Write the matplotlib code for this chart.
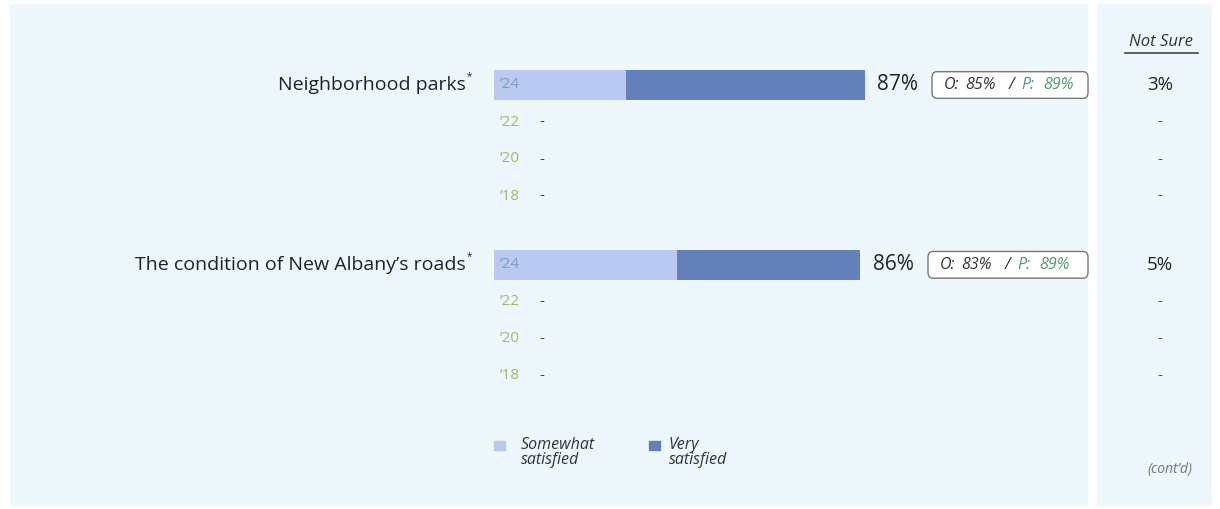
import matplotlib
matplotlib.use("Agg")
import matplotlib.pyplot as plt
from matplotlib.patches import Rectangle, FancyBboxPatch
from matplotlib.transforms import blended_transform_factory

# ---- data ----
items = ["Neighborhood parks", "The condition of New Albany\u2019s roads"]
years = ["\u201924", "\u201922", "\u201920", "\u201918"]
somewhat = [31, 43]          # '24 somewhat satisfied
very = [56, 43]              # '24 very satisfied
totals = [87, 86]
owners = [85, 83]
partners = [89, 89]
not_sure = ["3%", "5%"]
legend_labels = ["Somewhat\nsatisfied", "Very\nsatisfied"]

LIGHT = "#b9c9f1"
DARK = "#6281ba"
BG = "#eef7fc"
YEAR_GREEN = "#a3b86a"
TXT = "#222222"

W, H = 1220, 509
fig = plt.figure(figsize=(W / 100, H / 100), dpi=100, facecolor="white")

# background panels
fig.patches.append(Rectangle((10 / W, 4 / H), (1087 - 10) / W, (505 - 4) / H,
                             transform=fig.transFigure, color=BG, zorder=-5))
fig.patches.append(Rectangle((1097 / W, 4 / H), (1211 - 1097) / W, (505 - 4) / H,
                             transform=fig.transFigure, color=BG, zorder=-5))

# bar axes: x in percent, 0 at px 494, 100 at px 920
ax = fig.add_axes([494 / W, 0, 426 / W, 1])
ax.set_zorder(1)
ax.set_xlim(0, 100)
row_px = 37.0
first_px = 85.0
ax.set_ylim((H - first_px) / row_px, -first_px / row_px)
ax.axis("off")
ax.patch.set_alpha(0)

group_offset = 4.86
tr = blended_transform_factory(fig.transFigure, ax.transData)

def fx(px):
    return px / W

font = "Open Sans"
hand = "Open Sans"

for g, item in enumerate(items):
    y0 = g * group_offset
    ax.barh(y0, somewhat[g], height=0.82, color=LIGHT, zorder=2)
    ax.barh(y0, very[g], left=somewhat[g], height=0.82, color=DARK, zorder=2)
    # item label
    fig.text(fx(466), y0, item, transform=tr, ha="right", va="center",
             fontsize=14, family=font, color=TXT)
    fig.text(fx(467), y0 - 0.22, "*", transform=tr, ha="left", va="center",
             fontsize=7, family=font, color=TXT)
    # year labels
    for i, yr in enumerate(years):
        yy = y0 + i
        col = "#8699bd" if i == 0 else YEAR_GREEN
        ax.text(1.4, yy, yr, ha="left", va="center",
                fontsize=11, family=font, color=col, zorder=3)
        if i > 0:
            ax.text(10.6, yy, "-", ha="left", va="center",
                    fontsize=11, family=font, color="#444444", zorder=3)
            fig.text(fx(1160), yy, "-", transform=tr, ha="center", va="center",
                     fontsize=11, family=font, color="#555555")
    # total
    ax.text(totals[g] + 3.0, y0, f"{totals[g]}%", ha="left", va="center",
            fontsize=15, family=font, color=TXT, zorder=3)
    # O/P box
    sh = 0 if g == 0 else -4
    bx = fx(932 + sh)
    bw = fx(1088) - bx
    box = FancyBboxPatch((bx, y0 - 0.36), bw, 0.72, transform=tr,
                         boxstyle="round,pad=0,rounding_size=0.004",
                         facecolor="white", edgecolor="#777777", lw=1.0,
                         mutation_aspect=40, zorder=3)
    fig.patches.append(box)
    pieces = [(944, "O:", "#333333"), (965, f"{owners[g]}%", "#333333"),
              (1009, "/", "#333333"), (1021, "P:", "#4d9a6e"),
              (1043, f"{partners[g]}%", "#4d9a6e")]
    for px, s, c in pieces:
        fig.text(fx(px + sh), y0, s, transform=tr, ha="left", va="center",
                 fontsize=11.5, family=hand, style="italic", color=c, zorder=4)
    # not sure
    fig.text(fx(1160), y0, not_sure[g], transform=tr, ha="center", va="center",
             fontsize=13.5, family=font, color=TXT)

# Not Sure header
fig.text(fx(1161), 1 - 42 / H, "Not Sure", ha="center", va="center",
         fontsize=12, family=hand, style="italic", color="#333333")
fig.add_artist(plt.Line2D([fx(1125), fx(1198)], [1 - 53 / H, 1 - 53 / H],
                          color="#444444", lw=1.2, transform=fig.transFigure))

# legend
leg_y = 1 - 446 / H
for x_sq, x_tx, col, lab in [(494, 521, LIGHT, legend_labels[0]),
                              (649, 669, DARK, legend_labels[1])]:
    fig.patches.append(Rectangle((fx(x_sq), leg_y - 4 / H), 11 / W, 9 / H,
                                 transform=fig.transFigure, color=col))
    fig.text(fx(x_tx), leg_y + 9 / H, lab, ha="left", va="top", fontsize=11.5,
             family=hand, style="italic", color="#333333", linespacing=0.95)

fig.text(fx(1170), 1 - 470 / H, "(cont\u2019d)", ha="center", va="center",
         fontsize=10, family=font, style="italic", color="#777777")

fig.savefig("out.png", dpi=100, facecolor="white")
